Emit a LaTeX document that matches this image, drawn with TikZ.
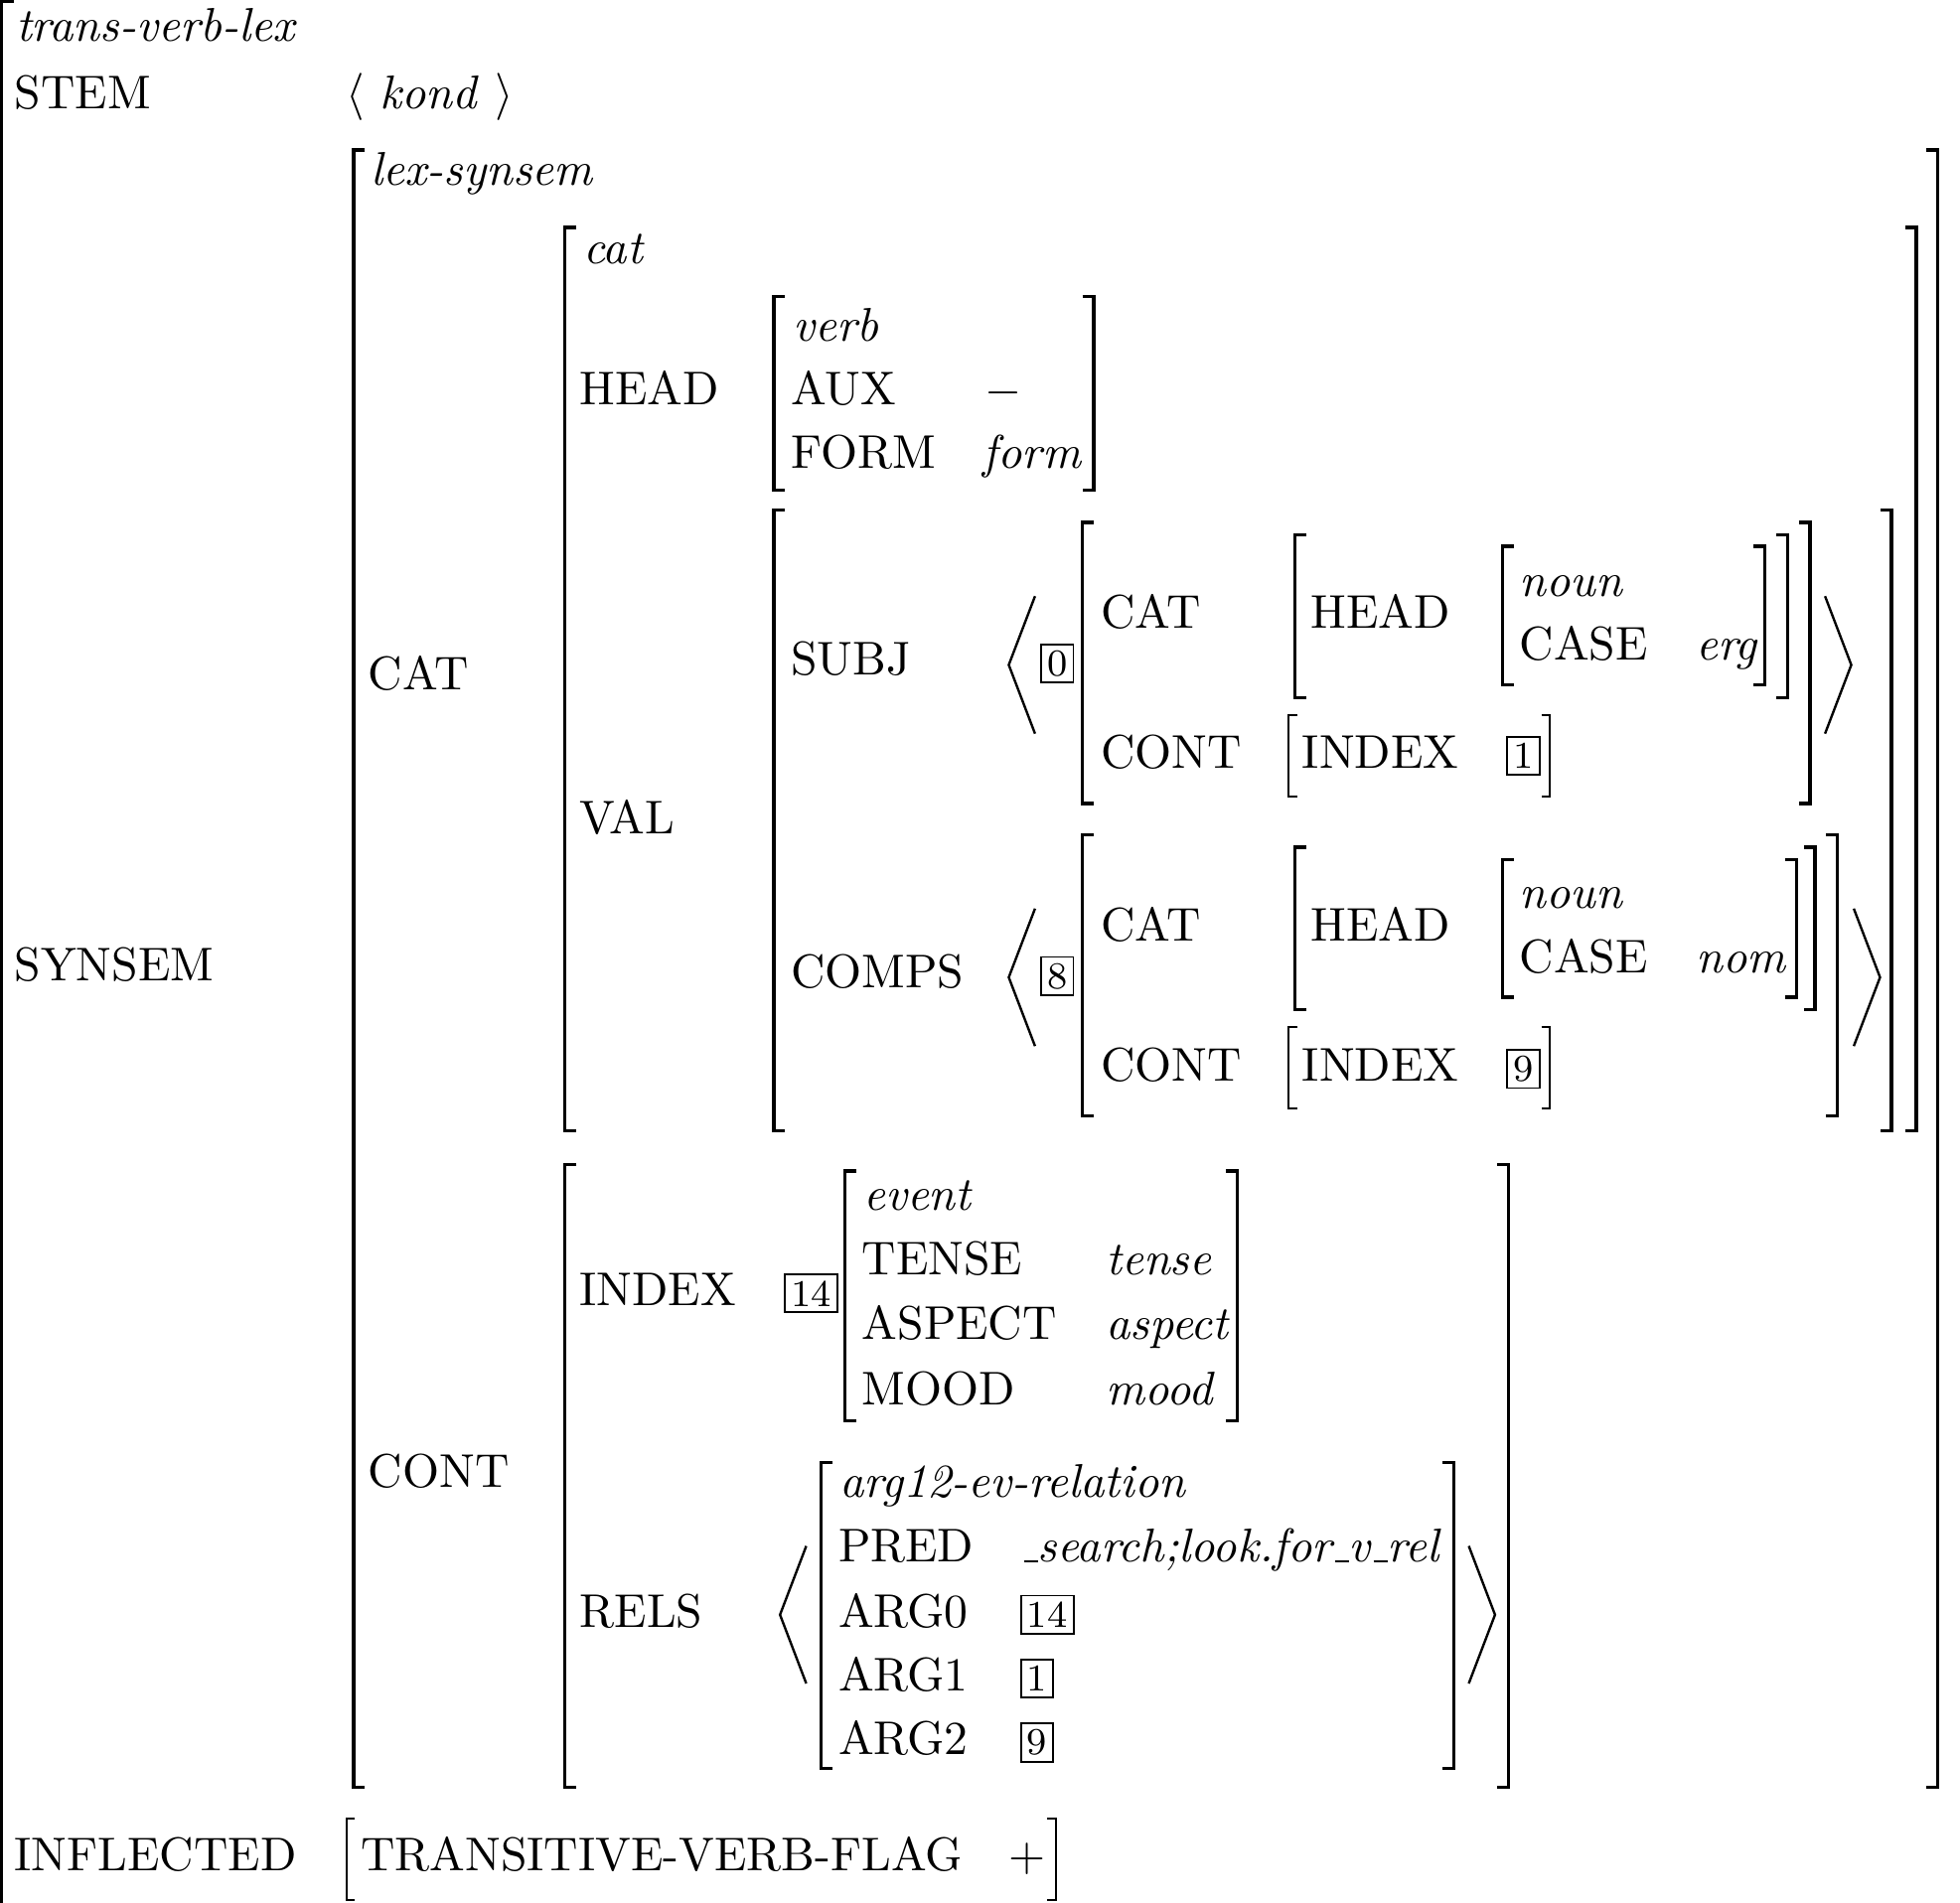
\documentclass[tikz,border=0pt]{standalone}
\usetikzlibrary{positioning}
\newcommand{\usc}{\leavevmode\kern.06em\vbox{\hrule width.3em}}
\tikzset{
  every picture/.style={x=0.26424pt, y=-0.26424pt},
  attr/.style={anchor=base west, inner sep=0pt},
  typ/.style={attr, font=\itshape},
  tag/.style={draw, line width=0.4pt, inner sep=1.3pt, font=\footnotesize},
  brk/.style={line width=0.7pt, line join=miter},
  thinbrk/.style={line width=0.4pt, line join=miter},
  angl/.style={line width=0.5pt, line join=miter},
}

\begin{document}
\begin{tikzpicture}
  \useasboundingbox (0,0) rectangle (1568,1522);
  % top level
  \node[typ] (tvl) at (12,33) {trans-verb-lex};
  \node[attr] (stem) at (11,87) {STEM};
  \node[attr] (stemval) at (276,87) {$\langle$ \textit{kond} $\rangle$};
  \node[attr] (synsem) at (11,785) {SYNSEM};
  \node[attr] (infl) at (11,1497) {INFLECTED};
  \node[attr] (tvf) at (288,1497) {TRANSITIVE-VERB-FLAG};
  \node[attr] (tvfval) at (806,1497) {$+$};
  % lex-synsem
  \node[typ] (lexss) at (296,148) {lex-synsem};
  \node[attr] (cat) at (294,552) {CAT};
  \node[attr] (cont) at (294,1190) {CONT};
  % cat
  \node[typ] (cattyp) at (466,211) {cat};
  \node[attr] (head) at (463,324) {HEAD};
  \node[attr] (val) at (463,667) {VAL};
  \node[typ] (verb) at (634,273) {verb};
  \node[attr] (aux) at (632,324) {AUX};
  \node[attr] (form) at (632,375) {FORM};
  \node[attr] (auxval) at (787,324) {$-$};
  \node[typ] (formval) at (786,375) {form};
  % val
  \node[attr] (subj) at (632,540) {SUBJ};
  \node[attr] (comps) at (632,790) {COMPS};
  % subj item
  \node[tag, anchor=west] (t0) at (832,531) {0};
  \node[attr] (scat) at (880,503) {CAT};
  \node[attr] (shead) at (1048,503) {HEAD};
  \node[typ] (snoun) at (1215,477) {noun};
  \node[attr] (scase) at (1215,528) {CASE};
  \node[typ] (serg) at (1356,528) {erg};
  \node[attr] (scont) at (880,615) {CONT};
  \node[attr] (sindex) at (1041,615) {INDEX};
  \node[tag, anchor=base west] (t1) at (1205,615) {1};
  % comps item
  \node[tag, anchor=west] (t8) at (832,781) {8};
  \node[attr] (ccat) at (880,753) {CAT};
  \node[attr] (chead) at (1048,753) {HEAD};
  \node[typ] (cnoun) at (1215,727) {noun};
  \node[attr] (ccase) at (1215,778) {CASE};
  \node[typ] (cnom) at (1356,778) {nom};
  \node[attr] (ccont) at (880,865) {CONT};
  \node[attr] (cindex) at (1041,865) {INDEX};
  \node[tag, anchor=base west] (t9) at (1205,865) {9};
  % cont
  \node[attr] (index) at (463,1045) {INDEX};
  \node[tag, anchor=west] (t14) at (627,1035) {14};
  \node[typ] (event) at (690,968) {event};
  \node[attr] (tense) at (689,1020) {TENSE};
  \node[attr] (aspect) at (689,1072) {ASPECT};
  \node[attr] (mood) at (689,1124) {MOOD};
  \node[typ] (tenseval) at (884,1020) {tense};
  \node[typ] (aspectval) at (884,1072) {aspect};
  \node[typ] (moodval) at (884,1124) {mood};
  \node[attr] (rels) at (463,1302) {RELS};
  \node[typ] (arg12) at (671,1198) {arg12-ev-relation};
  \node[attr] (pred) at (670,1250) {PRED};
  \node[typ] (predval) at (816,1250) {\usc search;look.for\usc v\usc rel};
  \node[attr] (arg0) at (670,1302) {ARG0};
  \node[attr] (arg1) at (670,1353) {ARG1};
  \node[attr] (arg2) at (670,1404) {ARG2};
  \node[tag, anchor=base west] (a0tag) at (816,1302) {14};
  \node[tag, anchor=base west] (a1tag) at (816,1353) {1};
  \node[tag, anchor=base west] (a2tag) at (816,1404) {9};
  % brackets
  \draw[brk] (11,1) -- (0.8,1) -- (0.8,1530);
  \foreach \x/\t/\b in {283/120/1430, 452/182/905, 619/237/392, 619/408/905,
      866/418/643, 1036/428/558, 1202/437/548, 866/668/893, 1036/678/808,
      1202/688/798, 452/932/1430, 676/937/1137, 657/1170/1415}
    \draw[brk] (\x+9,\t) -- (\x,\t) -- (\x,\b) -- (\x+9,\b);
  \foreach \x/\t/\b in {1550/120/1430, 1533/182/905, 875/237/392, 1513/408/905,
      1412/437/548, 1430/428/558, 1448/418/643, 1437/688/798, 1452/678/808,
      1470/668/893, 990/937/1137, 1163/1170/1415, 1207/932/1430}
    \draw[brk] (\x-9,\t) -- (\x,\t) -- (\x,\b) -- (\x-9,\b);
  \foreach \x/\t/\b in {1031/572/637, 1031/822/887, 277/1455/1520}
    \draw[thinbrk] (\x+7,\t) -- (\x,\t) -- (\x,\b) -- (\x+7,\b);
  \foreach \x/\t/\b in {1240/572/637, 1240/822/887, 845/1455/1520}
    \draw[thinbrk] (\x-7,\t) -- (\x,\t) -- (\x,\b) -- (\x-7,\b);
  % angle brackets
  \foreach \l/\r/\m in {828/1460/532, 828/1483/782, 645/1175/1292} {
    \draw[angl] (\l,\m-55) -- (\l-21,\m) -- (\l,\m+55);
    \draw[angl] (\r,\m-55) -- (\r+21,\m) -- (\r,\m+55);
  }
\end{tikzpicture}
\end{document}
